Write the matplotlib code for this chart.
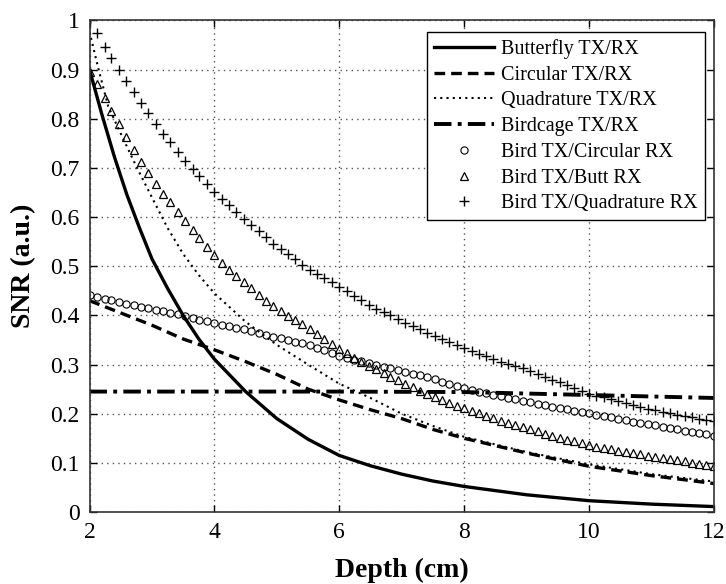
import matplotlib
matplotlib.use("Agg")
import matplotlib.pyplot as plt

plt.rcParams['font.family'] = ['Liberation Serif', 'DejaVu Serif']
plt.rcParams['mathtext.fontset'] = 'stix'

# ---------------- data ----------------
butterfly_x = [2, 2.2, 2.4, 2.6, 2.8, 3, 3.25, 3.5, 3.75, 4, 4.5, 5, 5.5, 6, 6.5, 7, 7.5, 8, 9, 10, 11, 12]
butterfly_y = [0.9, 0.808, 0.722, 0.645, 0.578, 0.515, 0.455, 0.400, 0.352, 0.311, 0.245, 0.19, 0.148, 0.115,
               0.094, 0.077, 0.063, 0.052, 0.035, 0.023, 0.016, 0.011]

circular_x = [2, 2.5, 3, 3.5, 4, 4.5, 5, 5.5, 6, 6.5, 7, 7.5, 8, 9, 10, 11, 12]
circular_y = [0.43, 0.405, 0.38, 0.352, 0.33, 0.306, 0.28, 0.25, 0.228, 0.208, 0.19, 0.168, 0.15, 0.12,
              0.093, 0.074, 0.058]

quad_x = [2, 2.15, 2.3, 2.5, 2.75, 3, 3.25, 3.5, 3.75, 4, 4.5, 5, 5.5, 6, 6.5, 7, 7.5, 8, 9, 10, 11, 12]
quad_y = [0.977, 0.898, 0.825, 0.77, 0.703, 0.64, 0.578, 0.525, 0.482, 0.445, 0.387, 0.34, 0.3, 0.261,
          0.232, 0.2, 0.175, 0.153, 0.122, 0.097, 0.077, 0.062]

birdcage_x = [2, 4, 6, 8, 9, 10, 11, 12]
birdcage_y = [0.245, 0.245, 0.245, 0.244, 0.241, 0.238, 0.235, 0.232]

marker_depth = [2.00, 2.12, 2.24, 2.35, 2.47, 2.59, 2.71, 2.82, 2.94, 3.06, 3.18, 3.29, 3.41, 3.53, 3.65, 3.76, 3.88,
                4.00, 4.12, 4.24, 4.35, 4.47, 4.59, 4.71, 4.82, 4.94, 5.06, 5.18, 5.29, 5.41, 5.53, 5.65, 5.76, 5.88,
                6.00, 6.12, 6.24, 6.35, 6.47, 6.59, 6.71, 6.82, 6.94, 7.06, 7.18, 7.29, 7.41, 7.53, 7.65, 7.76, 7.88,
                8.00, 8.12, 8.24, 8.35, 8.47, 8.59, 8.71, 8.82, 8.94, 9.06, 9.18, 9.29, 9.41, 9.53, 9.65, 9.76, 9.88,
                10.00, 10.12, 10.24, 10.35, 10.47, 10.59, 10.71, 10.82, 10.94, 11.06, 11.18, 11.29, 11.41, 11.53,
                11.65, 11.76, 11.88, 12.00]

bird_circ_y = [0.441, 0.438, 0.434, 0.431, 0.428, 0.424, 0.421, 0.418, 0.415, 0.411, 0.408, 0.405, 0.402, 0.398,
               0.395, 0.391, 0.388,
               0.384, 0.381, 0.378, 0.375, 0.372, 0.368, 0.365, 0.361, 0.357, 0.353, 0.350, 0.346, 0.343, 0.339,
               0.334, 0.329, 0.323,
               0.318, 0.314, 0.310, 0.307, 0.303, 0.299, 0.296, 0.292, 0.289, 0.285, 0.281, 0.278, 0.274, 0.270,
               0.265, 0.261, 0.256,
               0.252, 0.249, 0.245, 0.242, 0.239, 0.235, 0.232, 0.229, 0.226, 0.223, 0.220, 0.217, 0.214, 0.211,
               0.209, 0.206, 0.204,
               0.201, 0.198, 0.195, 0.193, 0.190, 0.187, 0.184, 0.182, 0.179, 0.176, 0.173, 0.171, 0.168, 0.165,
               0.163, 0.160, 0.158, 0.155]

bird_butt_y = [0.896, 0.870, 0.842, 0.815, 0.789, 0.762, 0.736, 0.713, 0.690, 0.667, 0.648, 0.630, 0.611, 0.592,
               0.574, 0.557, 0.539,
               0.523, 0.507, 0.492, 0.480, 0.467, 0.455, 0.441, 0.430, 0.419, 0.408, 0.399, 0.391, 0.382, 0.372,
               0.362, 0.352, 0.342,
               0.332, 0.323, 0.314, 0.305, 0.297, 0.290, 0.282, 0.275, 0.268, 0.261, 0.254, 0.247, 0.240, 0.233,
               0.227, 0.222, 0.216,
               0.211, 0.206, 0.201, 0.196, 0.191, 0.186, 0.181, 0.177, 0.172, 0.168, 0.164, 0.159, 0.155, 0.151,
               0.147, 0.144, 0.140,
               0.136, 0.133, 0.130, 0.128, 0.125, 0.122, 0.120, 0.117, 0.114, 0.112, 0.109, 0.107, 0.105, 0.103,
               0.100, 0.098, 0.096, 0.094]

bird_quad_y = [1.003, 0.974, 0.947, 0.923, 0.899, 0.876, 0.854, 0.833, 0.811, 0.790, 0.770, 0.752, 0.733, 0.714,
               0.698, 0.683, 0.667,
               0.651, 0.637, 0.624, 0.611, 0.597, 0.584, 0.571, 0.559, 0.546, 0.535, 0.524, 0.514, 0.503, 0.493,
               0.484, 0.476, 0.467,
               0.458, 0.449, 0.440, 0.431, 0.422, 0.414, 0.407, 0.400, 0.392, 0.385, 0.378, 0.372, 0.365, 0.358,
               0.352, 0.346, 0.339,
               0.333, 0.327, 0.321, 0.317, 0.311, 0.306, 0.301, 0.297, 0.292, 0.286, 0.280, 0.275, 0.269, 0.264,
               0.258, 0.252, 0.247,
               0.241, 0.237, 0.233, 0.229, 0.225, 0.221, 0.217, 0.214, 0.210, 0.207, 0.204, 0.201, 0.198, 0.195,
               0.193, 0.190, 0.188, 0.185]

x_ticks = [2, 4, 6, 8, 10, 12]
x_ticklabels = ["2", "4", "6", "8", "10", "12"]
y_ticks = [0, 0.1, 0.2, 0.3, 0.4, 0.5, 0.6, 0.7, 0.8, 0.9, 1.0]
y_ticklabels = ["0", "0.1", "0.2", "0.3", "0.4", "0.5", "0.6", "0.7", "0.8", "0.9", "1"]

legend_labels = ["Butterfly TX/RX", "Circular TX/RX", "Quadrature TX/RX", "Birdcage TX/RX",
                 "Bird TX/Circular RX", "Bird TX/Butt RX", "Bird TX/Quadrature RX"]

# ---------------- figure ----------------
fig = plt.figure(figsize=(7.26, 5.84), dpi=100)
ax = fig.add_axes([0.1233, 0.1233, 0.860, 0.8416])

ax.plot(butterfly_x, butterfly_y, color='black', lw=2.4, ls='-', label=legend_labels[0])
ax.plot(circular_x, circular_y, color='black', lw=2.4, ls=(0, (3.2, 1.8)), label=legend_labels[1])
ax.plot(quad_x, quad_y, color='black', lw=1.5, ls=(0, (1, 2.0)), label=legend_labels[2])
ax.plot(birdcage_x, birdcage_y, color='black', lw=2.8, ls=(0, (4.5, 1.6, 1, 1.6)), label=legend_labels[3])
ax.plot(marker_depth, bird_circ_y, ls='none', marker='o', ms=5.2, mfc='none', mec='black', mew=0.8,
        label=legend_labels[4])
ax.plot(marker_depth, bird_butt_y, ls='none', marker='^', ms=5.2, mfc='none', mec='black', mew=0.9,
        label=legend_labels[5])
ax.plot(marker_depth, bird_quad_y, ls='none', marker='+', ms=7, mec='black', mew=1.0,
        label=legend_labels[6])

ax.set_xlim(2, 12)
ax.set_ylim(0, 1)
ax.set_xticks(x_ticks)
ax.set_xticklabels(x_ticklabels)
ax.set_yticks(y_ticks)
ax.set_yticklabels(y_ticklabels)
ax.tick_params(direction='in', top=True, right=True, length=5, width=1, labelsize=17, pad=7, colors='black')
ax.grid(True, ls=(0, (1, 3)), color='#555555', lw=1.0)
for s in ax.spines.values():
    s.set_linewidth(1.2)
    s.set_color('#333333')

ax.set_xlabel("Depth (cm)", fontsize=20, fontweight='bold', labelpad=11)
ax.set_ylabel("SNR (a.u.)", fontsize=20, fontweight='bold', labelpad=10)

leg = ax.legend(loc='upper right', bbox_to_anchor=(0.9856, 0.9766), fontsize=14.5, frameon=True, fancybox=False,
                edgecolor='black', framealpha=1, handlelength=3.0, handletextpad=0.35, labelspacing=0.33,
                borderpad=0.35, numpoints=1, borderaxespad=0)
leg.get_frame().set_linewidth(1.0)

fig.savefig("out.png", dpi=100)
